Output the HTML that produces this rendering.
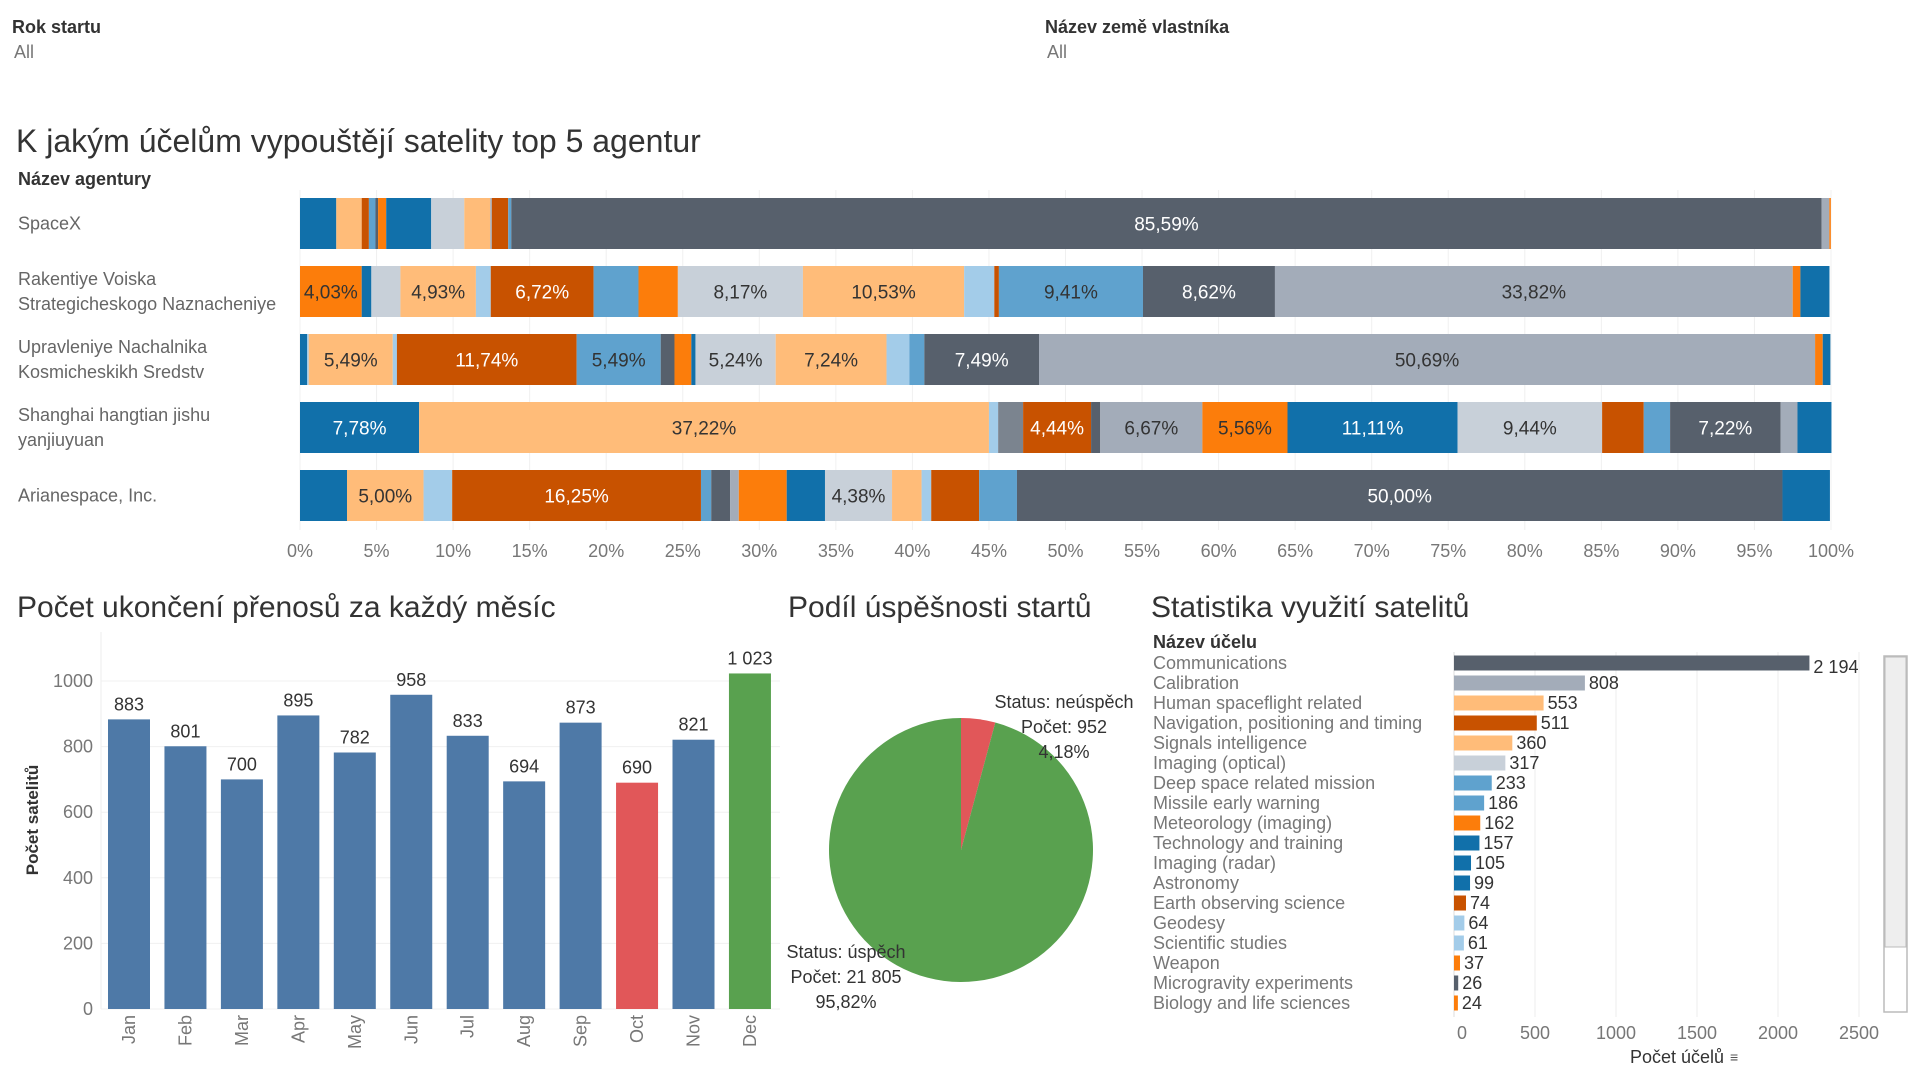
<!DOCTYPE html>
<html><head><meta charset="utf-8">
<style>
body{margin:0;background:#fff;width:1920px;height:1080px;overflow:hidden;font-family:"Liberation Sans Narrow","Liberation Sans",sans-serif;}
svg{display:block}
text{font-family:"Liberation Sans Narrow","Liberation Sans",sans-serif;}
</style></head>
<body>
<svg id="root" width="1920" height="1080" viewBox="0 0 1920 1080">
<g>
<text x="12" y="33" font-size="18" font-weight="bold" fill="#333">Rok startu</text>
<text x="14" y="58" font-size="18" fill="#777">All</text>
</g>
<g>
<text x="1045" y="33" font-size="18" font-weight="bold" fill="#333">Název země vlastníka</text>
<text x="1047" y="58" font-size="18" fill="#777">All</text>
</g>
<text x="16" y="152" font-size="32" fill="#333">K jakým účelům vypouštějí satelity top 5 agentur</text>
<text x="18" y="185" font-size="18" font-weight="bold" fill="#333">Název agentury</text>
<g id="stack"></g>
<text x="17" y="617" font-size="30" fill="#333">Počet ukončení přenosů za každý měsíc</text>
<g id="monthly"></g>
<text x="788" y="617" font-size="30" fill="#333">Podíl úspěšnosti startů</text>
<g id="pie"></g>
<text x="1151" y="617" font-size="30" fill="#333">Statistika využití satelitů</text>
<text x="1153" y="648" font-size="18" font-weight="bold" fill="#333">Název účelu</text>
<g id="purpose"></g>
<g>
<rect x="1884" y="656" width="23" height="356" fill="#fff" stroke="#bbb" stroke-width="1.5"/>
<rect x="1885" y="657" width="21" height="290" fill="#eee" stroke="#bbb" stroke-width="1"/>
</g>
</svg>
<script>
// ---- Stacked chart data ----
const agencies = ["SpaceX","Rakentiye Voiska|Strategicheskogo Naznacheniye","Upravleniye Nachalnika|Kosmicheskikh Sredstv","Shanghai hangtian jishu|yanjiuyuan","Arianespace, Inc."];
const spacexVals = [2.37,1.66,0.47,0.43,0.17,0.53,2.94,2.16,1.7,0.1,1.07,0.2,85.59,0.5,0.1];
const spacexCols = ["blue","lorange","dorange","mblue","dgray","orange","blue","lgray","lorange","gray","dorange","mblue","dgray","gray","orange"];
const rvsnVals = [4.03,0.63,1.9,4.93,0.97,6.72,2.93,2.57,8.17,10.53,1.97,0.3,9.41,8.62,33.82,0.5,1.9];
const rvsnCols = ["orange","blue","lgray","lorange","lblue","dorange","mblue","orange","lgray","lorange","lblue","dorange","mblue","dgray","gray","orange","blue"];
const unksVals = [0.47,0.1,5.49,0.27,11.74,5.49,0.9,1.1,0.27,5.24,7.24,1.5,0.97,7.49,50.69,0.5,0.5];
const unksCols = ["blue","lblue","lorange","lblue","dorange","mblue","dgray","orange","blue","lgray","lorange","lblue","mblue","dgray","gray","orange","blue"];
const shVals = [7.78,37.22,0.6,1.63,4.44,0.6,6.67,5.56,11.11,9.44,2.72,1.72,7.22,1.1,2.22];
const shCols = ["blue","lorange","lblue","mgray","dorange","dgray","gray","orange","blue","lgray","dorange","mblue","dgray","gray","blue"];
const arVals = [3.07,5.0,1.87,16.25,0.67,1.23,0.57,3.13,2.5,4.38,1.93,0.63,3.13,2.47,50.0,3.1];
const arCols = ["blue","lorange","lblue","dorange","mblue","dgray","gray","orange","blue","lgray","lorange","lblue","dorange","mblue","dgray","blue"];
const pctTicks = [0,5,10,15,20,25,30,35,40,45,50,55,60,65,70,75,80,85,90,95,100];

// ---- Monthly chart data ----
const months = ["Jan","Feb","Mar","Apr","May","Jun","Jul","Aug","Sep","Oct","Nov","Dec"];
const monthVals = [883,801,700,895,782,958,833,694,873,690,821,1023];
const monthTicks = [0,200,400,600,800,1000];

// ---- Pie data ----
const pieLabels = ["neúspěch","úspěch"];
const pieVals = [952,21805];

// ---- Purpose chart data ----
const purposes = ["Communications","Calibration","Human spaceflight related","Navigation, positioning and timing","Signals intelligence","Imaging (optical)","Deep space related mission","Missile early warning","Meteorology (imaging)","Technology and training","Imaging (radar)","Astronomy","Earth observing science","Geodesy","Scientific studies","Weapon","Microgravity experiments","Biology and life sciences"];
const purposeVals = [2194,808,553,511,360,317,233,186,162,157,105,99,74,64,61,37,26,24];
const purposeCols = ["dgray","gray","lorange","dorange","lorange","lgray","mblue","mblue","orange","blue","blue","blue","dorange","lblue","lblue","orange","dgray","orange"];
const purposeTicks = [0,500,1000,1500,2000,2500];

const PAL = {blue:"#1170aa",lorange:"#ffbc79",dorange:"#c85200",mblue:"#5fa2ce",dgray:"#57606c",orange:"#fc7d0b",lgray:"#c8d0d9",lblue:"#a3cce9",gray:"#a3acb9",mgray:"#7b848f"};
const DARK = {blue:1,dorange:1,dgray:1,mgray:1};
const NS="http://www.w3.org/2000/svg";
function mk(tag,attrs,parent){const e=document.createElementNS(NS,tag);for(const k in attrs)e.setAttribute(k,attrs[k]);parent.appendChild(e);return e;}
const fmt=v=>v.toFixed(2).replace(".",",");
const thou=v=>String(v).replace(/\B(?=(\d{3})+(?!\d))/g," ");

// Stacked chart
(function(){
  const g=document.getElementById("stack");
  const x0=300,x1=1831,xs=p=>x0+(x1-x0)*p/100;
  const rowTop=[198,266,334,402,470],bh=51;
  pctTicks.forEach(t=>{
    const l=mk("line",{x1:xs(t),x2:xs(t),y1:190,y2:530,stroke:"#f0f0f0","stroke-width":1},g);
    
    
    const tx=mk("text",{x:xs(t),y:557,"font-size":18,fill:"#777","text-anchor":"middle"},g);
    tx.textContent=t+"%";
    
    
  });
  const rows=[[spacexVals,spacexCols],[rvsnVals,rvsnCols],[unksVals,unksCols],[shVals,shCols],[arVals,arCols]];
  rows.forEach((r,i)=>{
    const lines=agencies[i].split("|");
    const cy=rowTop[i]+bh/2;
    lines.forEach((ln,j)=>{
      const t=mk("text",{x:18,y:cy+6+(j-(lines.length-1)/2)*25,"font-size":18,fill:"#666"},g);
      t.textContent=ln;
      
      
    });
    let acc=0;
    r[0].forEach((v,k)=>{
      const c=r[1][k];
      const rc=mk("rect",{x:xs(acc),y:rowTop[i],width:Math.max(0,xs(acc+v)-xs(acc)),height:bh,fill:PAL[c]},g);
      
      
      if(v>=4){
        const t=mk("text",{x:(xs(acc)+xs(acc+v))/2,y:cy+7,"font-size":19,"text-anchor":"middle",fill:DARK[c]?"#fff":"#333"},g);
        t.textContent=fmt(v)+"%";
        
        
      }
      acc+=v;
    });
  });
})();

// Monthly chart
(function(){
  const g=document.getElementById("monthly");
  const y0=1009,y1000=681,ys=v=>y0-(y0-y1000)*v/1000;
  const bx=108,step=56.45,bw=42;
  monthTicks.forEach(t=>{
    const l=mk("line",{x1:101,x2:780,y1:ys(t),y2:ys(t),stroke:"#f0f0f0"},g);
    
    
    const tx=mk("text",{x:93,y:ys(t)+6,"font-size":18,fill:"#777","text-anchor":"end"},g);
    tx.textContent=t;
    
    
  });
  const ax=mk("line",{x1:101,x2:101,y1:632,y2:1009,stroke:"#eee"},g);
  
  
  const yt=mk("text",{x:0,y:0,"font-size":17,"font-weight":"bold",fill:"#333","text-anchor":"middle",transform:"translate(38,820) rotate(-90)","font-family":"Liberation Sans, sans-serif"},g);
  yt.textContent="Počet satelitů";
  
  
  const mx=Math.max(...monthVals),mn=Math.min(...monthVals);
  monthVals.forEach((v,i)=>{
    const x=bx+i*step;
    const col=v===mx?"#59a14f":v===mn?"#e15759":"#4e79a7";
    const r=mk("rect",{x:x,y:ys(v),width:bw,height:y0-ys(v),fill:col},g);
    
    
    const t=mk("text",{x:x+bw/2,y:ys(v)-9,"font-size":18,fill:"#333","text-anchor":"middle"},g);
    t.textContent=thou(v);
    
    
    const m=mk("text",{x:0,y:0,"font-size":18,fill:"#777","text-anchor":"end",transform:"translate("+(x+bw/2+6)+",1015) rotate(-90)","font-family":"Liberation Sans, sans-serif"},g);
    m.textContent=months[i];
    
    
  });
})();

// Pie
(function(){
  const g=document.getElementById("pie");
  const cx=961,cy=850,r=132;
  const tot=pieVals.reduce((a,b)=>a+b,0);
  const cols=["#e15759","#59a14f"];
  let a=0;
  pieVals.forEach((v,i)=>{
    const a2=a+v/tot*2*Math.PI;
    const p=(ang)=>[cx+r*Math.sin(ang),cy-r*Math.cos(ang)];
    const [sx,sy]=p(a),[ex,ey]=p(a2);
    const large=(a2-a)>Math.PI?1:0;
    const s=mk("path",{d:`M${cx},${cy} L${sx},${sy} A${r},${r} 0 ${large} 1 ${ex},${ey} Z`,fill:cols[i]},g);
    
    
    a=a2;
  });
  const lab=[[1064,[702,727,752]],[846,[952,977,1002]]];
  pieVals.forEach((v,i)=>{
    const txt=["Status: "+pieLabels[i],"Počet: "+thou(v),fmt(v/tot*100)+"%"];
    txt.forEach((s,j)=>{
      const t=mk("text",{x:lab[i][0],y:lab[i][1][j]+6,"font-size":18,fill:"#333","text-anchor":"middle"},g);
      t.textContent=s;
      
      
    });
  });
})();

// Purpose chart
(function(){
  const g=document.getElementById("purpose");
  const x0=1454,xs=v=>x0+v*405/2500;
  const top=663,step=20;
  purposeTicks.forEach(t=>{
    const l=mk("line",{x1:xs(t),x2:xs(t),y1:652,y2:1017,stroke:t===0?"#ddd":"#eee"},g);
    
    
    const tx=mk("text",{x:xs(t)+(t===0?8:0),y:1039,"font-size":18,fill:"#777","text-anchor":"middle"},g);
    tx.textContent=t;
    
    
  });
  purposeVals.forEach((v,i)=>{
    const cy=top+i*step;
    const lt=mk("text",{x:1153,y:cy+6,"font-size":18,fill:"#777"},g);
    lt.textContent=purposes[i];
    
    
    const r=mk("rect",{x:x0,y:cy-7.5,width:xs(v)-x0,height:15,fill:PAL[purposeCols[i]]},g);
    
    
    const t=mk("text",{x:xs(v)+4,y:cy+(i===0?10:6),"font-size":18,fill:"#333"},g);
    t.textContent=thou(v);
    
    
  });
  const at=mk("text",{x:1677,y:1063,"font-size":18,fill:"#333","text-anchor":"middle"},g);
  at.textContent="Počet účelů";
  
  
  const si=mk("text",{x:1730,y:1062,"font-size":14,fill:"#555"},g);
  si.textContent="≡";
  
  
})();
</script>
</body></html>
